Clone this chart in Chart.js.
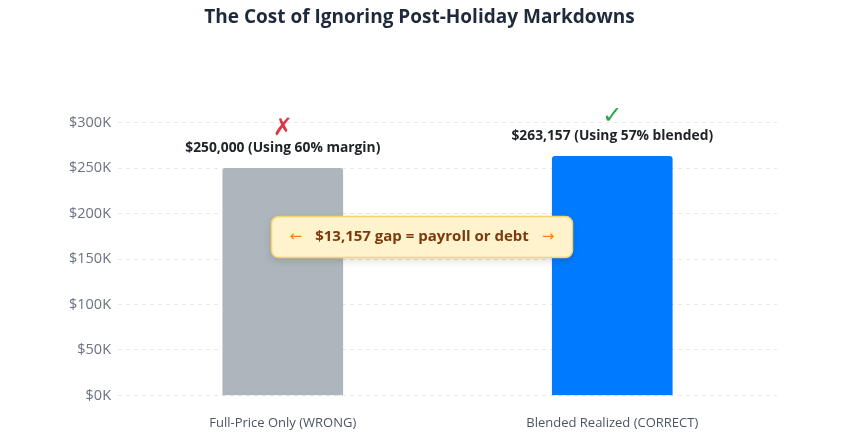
<!DOCTYPE html>
<html>
<head>
<meta charset="utf-8">
<script src="https://cdn.jsdelivr.net/npm/chart.js@4.4.1/dist/chart.umd.min.js"></script>
<style>
  html, body { margin: 0; padding: 0; background: #ffffff; }
  #wrap { width: 842px; height: 443px; position: relative; }
</style>
</head>
<body>
<div id="wrap"><canvas id="c" width="842" height="443"></canvas></div>
<script>
const categories = ["Full-Price Only (WRONG)", "Blended Realized (CORRECT)"];
const values = [250000, 263157];
const barLabels = ["$250,000 (Using 60% margin)", "$263,157 (Using 57% blended)"];
const icons = ["\u2717", "\u2713"];
const iconColors = ["#dc3545", "#28a745"];
const barColors = ["#adb5bd", "#007bff"];
const gapText = "$13,157 gap = payroll or debt";
const yTicks = [0, 50000, 100000, 150000, 200000, 250000, 300000];

const FONT = "'Open Sans', 'Noto Sans', sans-serif";

const overlay = {
  id: 'overlay',
  afterDatasetsDraw(chart) {
    const ctx = chart.ctx;
    const meta = chart.getDatasetMeta(0);
    ctx.save();
    meta.data.forEach((bar, i) => {
      ctx.textAlign = 'center';
      ctx.textBaseline = 'middle';
      ctx.fillStyle = '#212529';
      ctx.font = "bold 13.8px " + FONT;
      ctx.fillText(barLabels[i], bar.x, bar.y - 20);
      ctx.fillStyle = iconColors[i];
      ctx.font = "24px 'DejaVu Sans', sans-serif";
      ctx.fillText(icons[i], bar.x, bar.y - 39.5);
    });
    // gap annotation box
    const cx = chart.width / 2 + 1;
    const cy = 237;
    const w = 301, h = 41;
    const x0 = cx - w / 2, y0 = cy - h / 2;
    ctx.shadowColor = 'rgba(0,0,0,0.15)';
    ctx.shadowBlur = 8;
    ctx.shadowOffsetY = 3;
    ctx.fillStyle = '#fff3cd';
    ctx.beginPath();
    ctx.roundRect(x0, y0, w, h, 7);
    ctx.fill();
    ctx.shadowColor = 'transparent';
    ctx.lineWidth = 1.5;
    ctx.strokeStyle = '#f5d469';
    ctx.stroke();
    ctx.font = "bold 15px " + FONT;
    const mainW = ctx.measureText(gapText).width;
    ctx.font = "15px 'DejaVu Sans', sans-serif";
    const arrW = ctx.measureText("\u2190").width;
    const gap = 13;
    const total = arrW * 2 + gap * 2 + mainW;
    let x = cx - total / 2;
    ctx.textAlign = 'left';
    ctx.textBaseline = 'middle';
    ctx.fillStyle = '#fd7e14';
    ctx.fillText("\u2190", x, cy);
    x += arrW + gap;
    ctx.font = "bold 15px " + FONT;
    ctx.fillStyle = '#7a3a0c';
    ctx.fillText(gapText, x, cy);
    x += mainW + gap;
    ctx.font = "15px 'DejaVu Sans', sans-serif";
    ctx.fillStyle = '#fd7e14';
    ctx.fillText("\u2192", x, cy);
    ctx.restore();
  }
};

new Chart(document.getElementById('c'), {
  type: 'bar',
  data: {
    labels: categories,
    datasets: [{
      data: values,
      backgroundColor: barColors,
      borderRadius: { topLeft: 3, topRight: 3 },
      borderSkipped: 'bottom',
      barThickness: 120
    }]
  },
  options: {
    responsive: false,
    animation: false,
    layout: { padding: { left: 62, right: 65, top: 0, bottom: 0 } },
    plugins: {
      legend: { display: false },
      tooltip: { enabled: false },
      title: {
        display: true,
        text: "The Cost of Ignoring Post-Holiday Markdowns",
        color: '#1e293b',
        font: { family: FONT, size: 19, weight: 'bold' },
        padding: { top: 6, bottom: 94 }
      }
    },
    scales: {
      x: {
        grid: { display: false },
        border: { display: false },
        ticks: { color: '#4b5563', font: { family: FONT, size: 13 }, padding: 12 }
      },
      y: {
        min: 0,
        max: 300000,
        afterBuildTicks(axis) { axis.ticks = yTicks.map(v => ({ value: v })); },
        border: { display: false, dash: [4, 4] },
        grid: { color: '#e5e7eb', drawTicks: false, lineWidth: 1 },
        ticks: {
          color: '#6b7280',
          font: { family: FONT, size: 14.5 },
          padding: 7,
          callback: v => '$' + (v / 1000) + 'K'
        }
      }
    }
  },
  plugins: [overlay]
});
</script>
</body>
</html>
